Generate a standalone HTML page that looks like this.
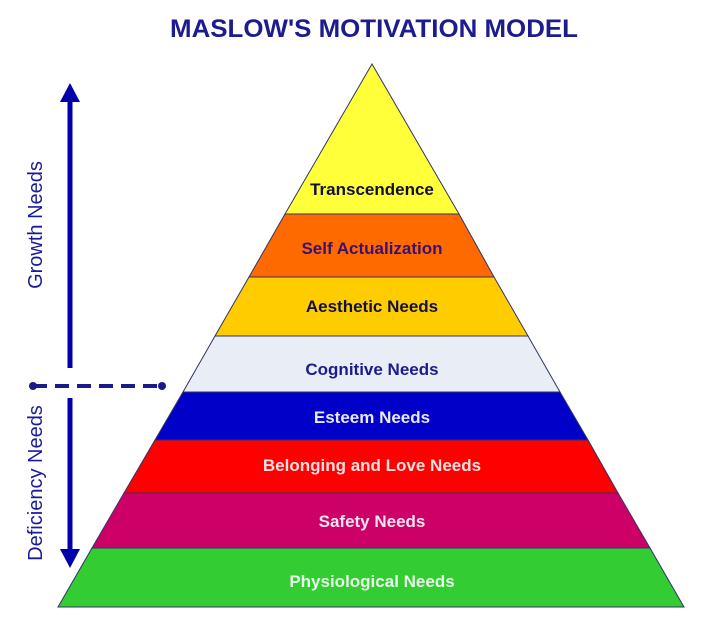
<!DOCTYPE html>
<html><head><style>body{margin:0;background:#fff;}svg{display:block}</style></head><body>
<svg width="724" height="633" viewBox="0 0 724 633" xmlns="http://www.w3.org/2000/svg" font-family="Liberation Sans, sans-serif">
<text x="374" y="37" text-anchor="middle" font-size="25" font-weight="bold" fill="#1c1c8e" textLength="408" lengthAdjust="spacingAndGlyphs">MASLOW'S MOTIVATION MODEL</text>
<g stroke="#333366" stroke-width="1">
<polygon points="372,64 285,214 459,214" fill="#ffff3a"/>
<polygon points="285,214 459,214 494,277 249,277" fill="#ff6a00"/>
<polygon points="249,277 494,277 528,336 215,336" fill="#ffcc00"/>
<polygon points="215,336 528,336 560,392 183,392" fill="#e8edf6"/>
<polygon points="183,392 560,392 588,440 155,440" fill="#0000c8"/>
<polygon points="155,440 588,440 618,493 124,493" fill="#ff0000"/>
<polygon points="124,493 618,493 650,548 92,548" fill="#cc0066"/>
<polygon points="92,548 650,548 684,607 58,607" fill="#33cc33"/>
</g>
<g font-size="17" font-weight="bold" text-anchor="middle">
<text x="372" y="195" fill="#111133">Transcendence</text>
<text x="372" y="254" fill="#3a1070">Self Actualization</text>
<text x="372" y="312" fill="#111144">Aesthetic Needs</text>
<text x="372" y="375" fill="#1c1c8e">Cognitive Needs</text>
<text x="372" y="423" fill="#e8e8f4">Esteem Needs</text>
<text x="372" y="471" fill="#f4e0e0">Belonging and Love Needs</text>
<text x="372" y="527" fill="#f4e4f0">Safety Needs</text>
<text x="372" y="587" fill="#e8f8e8">Physiological Needs</text>
</g>
<g fill="#0000aa" stroke="#0000aa">
<line x1="70" y1="98" x2="70" y2="368" stroke-width="5"/>
<polygon points="70,83 60,102 80,102" stroke="none"/>
<line x1="70" y1="398" x2="70" y2="552" stroke-width="5"/>
<polygon points="70,568 60,549 80,549" stroke="none"/>
<line x1="33" y1="386" x2="162" y2="386" stroke-width="4" stroke-dasharray="14,8" stroke="#1a1a8a"/>
<circle cx="33" cy="386" r="4" stroke="none" fill="#1a1a8a"/>
<circle cx="162" cy="386" r="4" stroke="none" fill="#1a1a8a"/>
</g>
<g font-size="20" fill="#1a1a9a" text-anchor="middle">
<text transform="translate(42,225) rotate(-90)">Growth Needs</text>
<text transform="translate(42,483) rotate(-90)">Deficiency Needs</text>
</g>
</svg>
</body></html>
